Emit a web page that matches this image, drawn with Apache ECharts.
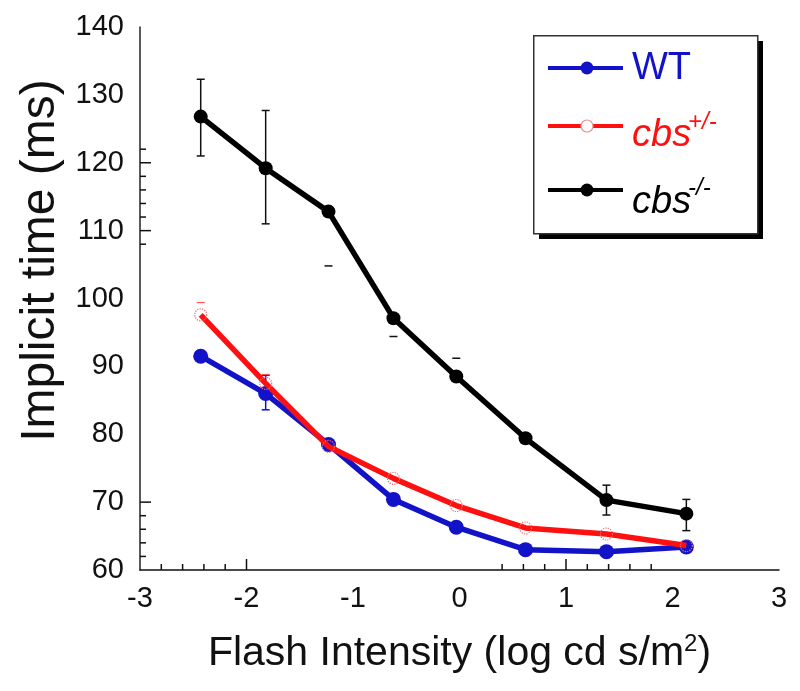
<!DOCTYPE html>
<html>
<head>
<meta charset="utf-8">
<script src="https://cdn.jsdelivr.net/npm/echarts@6/dist/echarts.min.js"></script>
<style>
html, body { margin: 0; padding: 0; background: #fff; }
#chart { width: 800px; height: 691px; }
</style>
</head>
<body>
<div id="chart"></div>
<script>
// flash intensity (log cd s/m2) of each step
var flashX = [-2.43, -1.82, -1.23, -0.62, -0.03, 0.62, 1.38, 2.13];

// implicit time (ms)
var wtTime  = [91.5, 86.0, 78.5, 70.4, 66.3, 63.0, 62.7, 63.4];
var hetTime = [97.6, 87.5, 78.2, 73.5, 69.5, 66.2, 65.3, 63.6];
var koTime  = [126.8, 119.2, 112.8, 97.1, 88.5, 79.4, 70.3, 68.3];

// error bar ends (null = not drawn)
var koErrLow   = [121.0, 111.0, 104.8, 94.4, null, null, 68.1, 65.8];
var koErrHigh  = [132.3, 127.7, null, null, 91.2, null, 72.5, 70.4];
var wtErrLow   = [null, 83.6, null, null, null, null, null, null];
var wtErrHigh  = [null, 88.7, null, null, null, null, null, null];
var hetErrLow  = [null, null, null, null, null, null, null, null];
var hetErrHigh = [99.4, 88.8, null, null, null, null, null, null];

// the few ticks that the original axes show
var xMajorTicks = [-2, 1];
var xMinorTicks = [-2.8, -2.6, -2.4, -2.2, 0.4, 0.6, 0.8, 1.2, 1.4, 1.6, 1.8];
var yMajorTicks = [70, 110, 120];
var yMinorTicks = [62, 64, 66, 68, 108, 112, 114, 116, 118, 122];

var BLUE = '#1212c8';
var RED = '#ff1010';
var FONT = '"Liberation Sans", Arial, sans-serif';

function pairs(ys) {
    return flashX.map(function (x, i) { return [x, ys[i]]; });
}

function errRows(lo, hi) {
    return flashX.map(function (x, i) {
        return [x, lo[i] == null ? '-' : lo[i], hi[i] == null ? '-' : hi[i]];
    });
}

function has(v) {
    return v != null && v !== '-' && !isNaN(v);
}

function errorBar(color, width) {
    return function (params, api) {
        var x = api.value(0), lo = api.value(1), hi = api.value(2);
        var kids = [];
        var style = { stroke: color, lineWidth: width };
        var pLo = has(lo) ? api.coord([x, lo]) : null;
        var pHi = has(hi) ? api.coord([x, hi]) : null;
        if (pLo && pHi) {
            kids.push({ type: 'line', shape: { x1: pLo[0], y1: pLo[1], x2: pHi[0], y2: pHi[1] }, style: style });
        }
        [pLo, pHi].forEach(function (p) {
            if (p) {
                kids.push({ type: 'line', shape: { x1: p[0] - 4, y1: p[1], x2: p[0] + 4, y2: p[1] }, style: style });
            }
        });
        return { type: 'group', children: kids };
    };
}

function xTick(len) {
    return function (params, api) {
        var p = api.coord([api.value(0), 60]);
        return { type: 'line', shape: { x1: p[0], y1: p[1], x2: p[0], y2: p[1] - len }, style: { stroke: '#111', lineWidth: 1.5 } };
    };
}

function yTick(len) {
    return function (params, api) {
        var p = api.coord([-3, api.value(1)]);
        return { type: 'line', shape: { x1: p[0], y1: p[1], x2: p[0] + len, y2: p[1] }, style: { stroke: '#111', lineWidth: 1.5 } };
    };
}

var chart = echarts.init(document.getElementById('chart'));

var option = {
    animation: false,
    backgroundColor: '#fff',
    grid: { left: 140, right: 21, top: 27, bottom: 121, containLabel: false },
    xAxis: {
        type: 'value',
        min: -3, max: 3, interval: 1,
        name: 'Flash Intensity (log cd s/m{sup|2})',
        nameLocation: 'middle',
        nameGap: 62,
        nameTextStyle: {
            color: '#111', fontFamily: FONT, fontSize: 41, lineHeight: 44,
            rich: { sup: { fontSize: 24, lineHeight: 24, verticalAlign: 'top', color: '#111', fontFamily: FONT } }
        },
        axisLine: { onZero: false, lineStyle: { color: '#111', width: 1.5 } },
        axisTick: { show: false },
        splitLine: { show: false },
        axisLabel: { color: '#111', fontFamily: FONT, fontSize: 29, margin: 14 }
    },
    yAxis: {
        type: 'value',
        min: 60, max: 140, interval: 10,
        name: 'Implicit time (ms)',
        nameLocation: 'middle',
        nameGap: 52,
        nameTextStyle: { color: '#111', fontFamily: FONT, fontSize: 48, padding: [0, 0, 0, 76] },
        axisLine: { show: true, onZero: false, lineStyle: { color: '#222', width: 1.5 } },
        axisTick: { show: false },
        splitLine: { show: false },
        axisLabel: { color: '#111', fontFamily: FONT, fontSize: 29, margin: 16 }
    },
    series: [
        { type: 'custom', silent: true, data: xMajorTicks.map(function (v) { return [v, 60]; }), renderItem: xTick(11) },
        { type: 'custom', silent: true, data: xMinorTicks.map(function (v) { return [v, 60]; }), renderItem: xTick(6) },
        { type: 'custom', silent: true, data: yMajorTicks.map(function (v) { return [-3, v]; }), renderItem: yTick(11) },
        { type: 'custom', silent: true, data: yMinorTicks.map(function (v) { return [-3, v]; }), renderItem: yTick(6) },
        {
            name: 'WT', type: 'line', data: pairs(wtTime), z: 3,
            symbol: 'circle', symbolSize: 15,
            lineStyle: { color: BLUE, width: 5.5 },
            itemStyle: { color: BLUE }
        },
        {
            name: 'cbs+/-', type: 'line', data: pairs(hetTime), z: 4,
            symbol: 'circle', symbolSize: 12,
            lineStyle: { color: RED, width: 5.5 },
            itemStyle: { color: 'rgba(0,0,0,0)', borderColor: '#f07070', borderWidth: 1.2, borderType: 'dotted' }
        },
        {
            name: 'cbs-/-', type: 'line', data: pairs(koTime), z: 5,
            symbol: 'circle', symbolSize: 14,
            lineStyle: { color: '#000', width: 5.5 },
            itemStyle: { color: '#000' }
        },
        { type: 'custom', silent: true, z: 3, data: errRows(wtErrLow, wtErrHigh), encode: { x: 0, y: [1, 2] }, renderItem: errorBar(BLUE, 1.5) },
        { type: 'custom', silent: true, z: 4, data: errRows(hetErrLow, hetErrHigh), encode: { x: 0, y: [1, 2] }, renderItem: errorBar('#ff5050', 1.2) },
        { type: 'custom', silent: true, z: 5, data: errRows(koErrLow, koErrHigh), encode: { x: 0, y: [1, 2] }, renderItem: errorBar('#111', 1.5) }
    ],
    graphic: [
        // legend box with hard shadow
        { type: 'rect', left: 539, top: 41, shape: { width: 224, height: 198 }, style: { fill: '#000' }, z: 10 },
        { type: 'rect', left: 533, top: 35, shape: { width: 224, height: 198 }, style: { fill: '#fff', stroke: '#333', lineWidth: 1.5 }, z: 11 },
        { type: 'line', shape: { x1: 548, y1: 68, x2: 623, y2: 68 }, style: { stroke: BLUE, lineWidth: 4 }, z: 12 },
        { type: 'circle', shape: { cx: 587, cy: 68, r: 6.5 }, style: { fill: BLUE }, z: 13 },
        { type: 'text', x: 632, y: 69, style: { text: 'WT', font: '38px ' + FONT, fill: BLUE, verticalAlign: 'middle' }, z: 13 },
        { type: 'line', shape: { x1: 548, y1: 126, x2: 623, y2: 126 }, style: { stroke: RED, lineWidth: 4 }, z: 12 },
        { type: 'circle', shape: { cx: 587, cy: 126, r: 6 }, style: { fill: '#fff', stroke: '#f49090', lineWidth: 1.2 }, z: 13 },
        { type: 'text', x: 632, y: 135, style: { text: 'cbs', font: 'italic 38px ' + FONT, fill: RED, verticalAlign: 'middle' }, z: 13 },
        { type: 'text', x: 688, y: 122, style: { text: '+/-', font: 'italic 24px ' + FONT, fill: RED, verticalAlign: 'middle' }, z: 13 },
        { type: 'line', shape: { x1: 548, y1: 190, x2: 623, y2: 190 }, style: { stroke: '#000', lineWidth: 4 }, z: 12 },
        { type: 'circle', shape: { cx: 587, cy: 190, r: 6.5 }, style: { fill: '#000' }, z: 13 },
        { type: 'text', x: 632, y: 202, style: { text: 'cbs', font: 'italic 38px ' + FONT, fill: '#000', verticalAlign: 'middle' }, z: 13 },
        { type: 'text', x: 688, y: 188, style: { text: '-/-', font: 'italic 24px ' + FONT, fill: '#000', verticalAlign: 'middle' }, z: 13 }
    ]
};

chart.setOption(option);
</script>
</body>
</html>
